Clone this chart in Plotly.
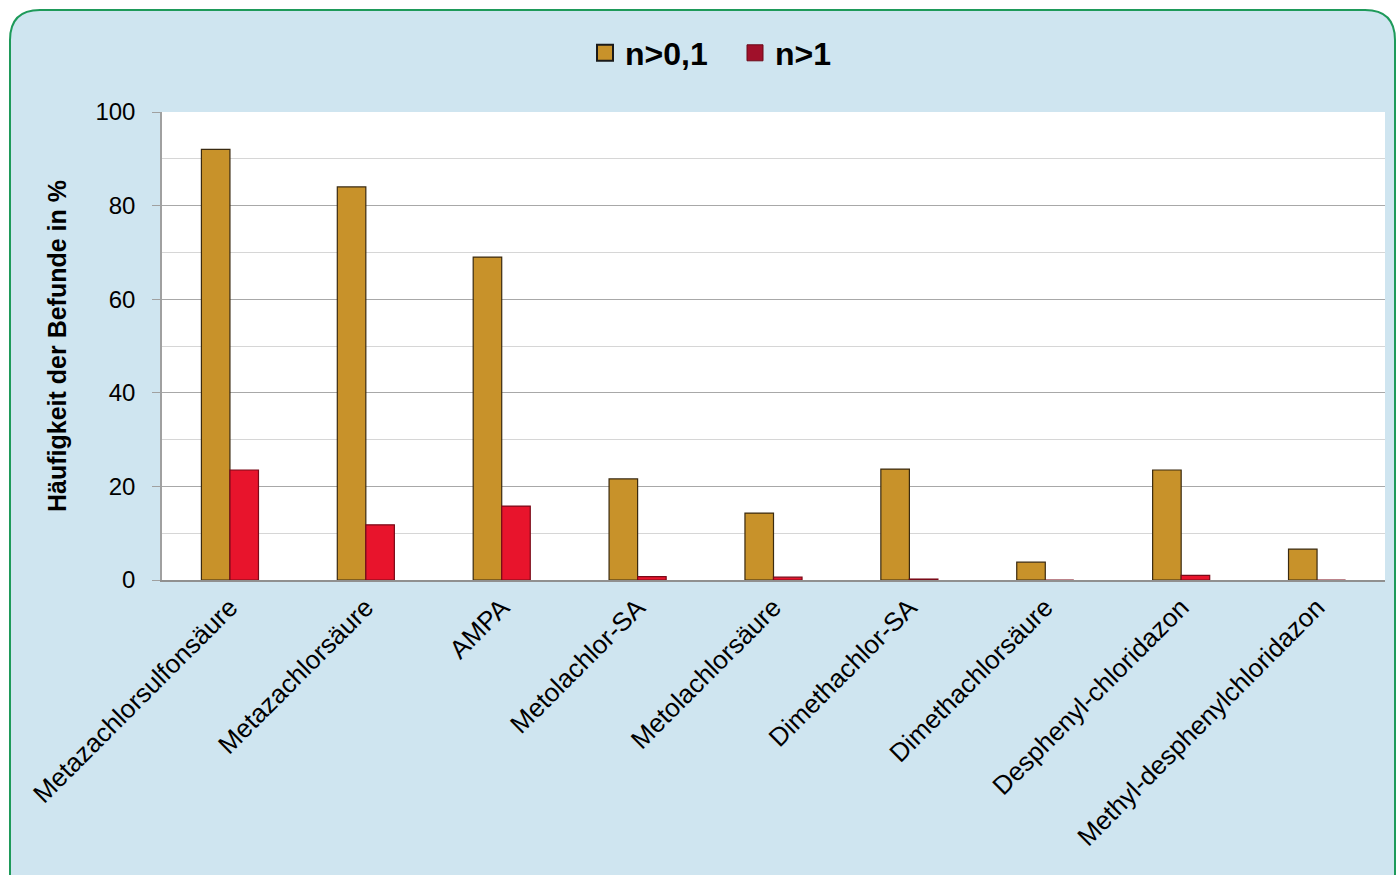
import plotly.graph_objects as go

categories = ["Metazachlorsulfonsäure", "Metazachlorsäure", "AMPA", "Metolachlor-SA",
              "Metolachlorsäure", "Dimethachlor-SA", "Dimethachlorsäure",
              "Desphenyl-chloridazon", "Methyl-desphenylchloridazon"]
n_01 = [92, 84, 69, 21.6, 14.3, 23.7, 3.8, 23.5, 6.6]
n_1 = [23.5, 11.8, 15.8, 0.7, 0.6, 0.2, 0, 1.0, 0]
y_ticks = [0, 20, 40, 60, 80, 100]

GOLD = "#C8922A"
RED = "#E8142C"

fig = go.Figure()
fig.add_trace(go.Bar(x=categories, y=n_01, name="n>0,1", showlegend=False,
                     marker=dict(color=GOLD, line=dict(color="#3a2a10", width=1.2))))
fig.add_trace(go.Bar(x=categories, y=n_1, name="n>1", showlegend=False,
                     marker=dict(color=RED, line=dict(color="#7a0a18", width=1.2))))
# legend entries
fig.add_trace(go.Scatter(x=[None], y=[None], mode="markers", name="n>0,1",
                         marker=dict(symbol="square", size=20, color=GOLD,
                                     line=dict(color="#1a1a1a", width=2))))
fig.add_trace(go.Scatter(x=[None], y=[None], mode="markers", name="n>1",
                         marker=dict(symbol="square", size=20, color="#A0102A",
                                     line=dict(color="#6a0818", width=1))))

# plot area in pixels: x 162..1385, y 112..580
L, R, T, B = 162, 1385, 112, 580
def px(x):
    return (x - L) / (R - L)
def py(y):
    return (B - y) / (B - T)

x0, x1, y0, y1 = px(10), px(1395), py(10), py(880)
rx = px(10 + 30) - px(10)
ry = py(10) - py(10 + 30)
path = (f"M {x0+rx} {y0} L {x1-rx} {y0} Q {x1} {y0} {x1} {y0-ry} "
        f"L {x1} {y1} L {x0} {y1} L {x0} {y0-ry} Q {x0} {y0} {x0+rx} {y0} Z")

fig.update_layout(
    width=1400, height=875,
    paper_bgcolor="white",
    plot_bgcolor="white",
    barmode="group",
    bargap=0.58,
    bargroupgap=0.0,
    margin=dict(l=L, r=1400 - R, t=T, b=875 - B),
    font=dict(family="Liberation Sans, Arial", color="black"),
    legend=dict(orientation="h", x=0.525, xanchor="center", xref="container",
                y=1 - 53 / 875, yanchor="middle", yref="container",
                font=dict(size=32, family="Liberation Sans, Arial", weight="bold"),
                bgcolor="rgba(0,0,0,0)", itemwidth=30, entrywidth=105),
    shapes=[dict(type="path", path=path, xref="paper", yref="paper",
                 fillcolor="#CFE5F0", line=dict(color="#1E9A5A", width=2), layer="below"),
            dict(type="rect", x0=0, x1=1, y0=0, y1=1, xref="paper", yref="paper",
                 fillcolor="white", line=dict(width=0), layer="below")],
    yaxis=dict(range=[0, 100], tickmode="array", tickvals=y_ticks,
               ticktext=[str(v) for v in y_ticks], tickfont=dict(size=24),
               title=dict(text="Häufigkeit der Befunde in %", font=dict(size=25, weight="bold"),
                          standoff=22),
               gridcolor="#a8a8a8", gridwidth=1.2,
               minor=dict(dtick=10, tick0=0, showgrid=True, gridcolor="#d6d6d6", gridwidth=1),
               showline=True, linecolor="#a0a0a0", linewidth=1.5,
               ticks="outside", ticklen=8, tickcolor="#a0a0a0", ticklabelstandoff=12,
               zeroline=False),
    xaxis=dict(tickangle=-45, tickfont=dict(size=26), showline=True, linecolor="#909090",
               linewidth=2, ticks=""),
)
fig.write_html("out.html")
